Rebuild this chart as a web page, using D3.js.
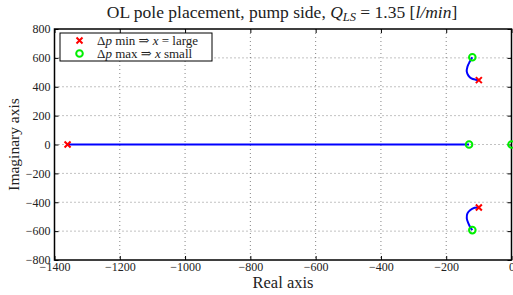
<!DOCTYPE html>
<html>
<head>
<meta charset="utf-8">
<script src="https://cdn.jsdelivr.net/npm/d3@7"></script>
<style>
body { margin: 0; background: #fff; }
text { font-family: "Liberation Serif", "DejaVu Serif", serif; fill: #222; }
</style>
</head>
<body>
<svg id="chart" width="513" height="295"></svg>
<script>
// values
var xTicks = [-1400, -1200, -1000, -800, -600, -400, -200, 0];
var yTicks = [-800, -600, -400, -200, 0, 200, 400, 600, 800];

var realLocus = [[-1360, 0], [-130, 0]];
var upperLocus = [[-120, 604], [-128, 573], [-135, 539], [-137, 504], [-132, 477], [-123, 458], [-110, 449], [-100, 446]];
var lowerLocus = [[-100, -436], [-113, -438], [-126, -454], [-135, -477], [-137, -511], [-132, -546], [-126, -574], [-120, -593]];

var polesMin = [[-1360, 0], [-100, 446], [-100, -436]];   // red x
var polesMax = [[-130, 0], [-120, 604], [-120, -593], [0, 0]]; // green o

var margin = {top: 29, right: 1.5, bottom: 35, left: 54.5};
var width = 513 - margin.left - margin.right;
var height = 295 - margin.top - margin.bottom;

var svg = d3.select("#chart");

var x = d3.scaleLinear().domain([-1400, 0]).range([0, width]);
var y = d3.scaleLinear().domain([-800, 800]).range([height, 0]);

var g = svg.append("g")
	.attr("transform", "translate(" + margin.left + "," + margin.top + ")");

// grid
g.selectAll(".vgrid")
	.data(xTicks.slice(1, -1))
	.enter().append("line")
	.attr("x1", function(d){ return x(d); })
	.attr("x2", function(d){ return x(d); })
	.attr("y1", 0).attr("y2", height)
	.attr("stroke", "#666").attr("stroke-width", 0.8)
	.attr("stroke-dasharray", "1,3");
g.selectAll(".hgrid")
	.data(yTicks.slice(1, -1))
	.enter().append("line")
	.attr("y1", function(d){ return y(d); })
	.attr("y2", function(d){ return y(d); })
	.attr("x1", 0).attr("x2", width)
	.attr("stroke", "#666").attr("stroke-width", 0.8)
	.attr("stroke-dasharray", "1,3");

// axes, ticks pointing in
var xBottom = d3.axisBottom(x).tickValues(xTicks).tickSize(-4).tickPadding(6).tickFormat(d3.format("d"));
var xTop = d3.axisTop(x).tickValues(xTicks).tickSize(-4).tickFormat("");
var yLeft = d3.axisLeft(y).tickValues(yTicks).tickSize(-4).tickPadding(4).tickFormat(d3.format("d"));
var yRight = d3.axisRight(y).tickValues(yTicks).tickSize(-4).tickFormat("");

function styleAxis(sel){
	sel.select(".domain").remove();
	sel.selectAll(".tick line").attr("stroke", "#000").attr("stroke-width", 1);
	sel.selectAll("text").style("font-size", "12px").attr("fill", "#222");
}
g.append("g").attr("transform", "translate(0," + height + ")").call(xBottom).call(styleAxis)
	.selectAll("text").attr("dy", "0.4em").text(function(d){ return d < 0 ? "\u2212" + (-d) : d; });
g.append("g").call(xTop).call(styleAxis);
g.append("g").call(yLeft).call(styleAxis)
	.selectAll("text").text(function(d){ return d < 0 ? "\u2212" + (-d) : d; });
g.append("g").attr("transform", "translate(" + width + ",0)").call(yRight).call(styleAxis);

g.append("rect")
	.attr("width", width).attr("height", height)
	.attr("fill", "none").attr("stroke", "#000").attr("stroke-width", 1.5);

// loci
var line = d3.line()
	.x(function(d){ return x(d[0]); })
	.y(function(d){ return y(d[1]); })
	.curve(d3.curveCatmullRom);

[realLocus, upperLocus, lowerLocus].forEach(function(pts){
	g.append("path")
		.attr("d", line(pts))
		.attr("fill", "none")
		.attr("stroke", "#0000ff")
		.attr("stroke-width", 2);
});

// markers
function cross(sel, cx, cy, s){
	sel.append("path")
		.attr("d", "M" + (cx - s) + "," + (cy - s) + "L" + (cx + s) + "," + (cy + s) +
			"M" + (cx - s) + "," + (cy + s) + "L" + (cx + s) + "," + (cy - s))
		.attr("stroke", "#ff0000").attr("stroke-width", 2).attr("fill", "none");
}
polesMin.forEach(function(p){ cross(g, x(p[0]), y(p[1]), 3); });
g.selectAll(".pmax")
	.data(polesMax)
	.enter().append("circle")
	.attr("cx", function(d){ return x(d[0]); })
	.attr("cy", function(d){ return y(d[1]); })
	.attr("r", 3.3)
	.attr("fill", "none").attr("stroke", "#00ee00").attr("stroke-width", 2);

// legend
var lg = svg.append("g").attr("transform", "translate(60,33)");
lg.append("rect").attr("width", 152).attr("height", 28)
	.attr("fill", "#fff").attr("stroke", "#000").attr("stroke-width", 1);
cross(lg, 19.5, 7.5, 3);
lg.append("circle").attr("cx", 19.5).attr("cy", 20.5).attr("r", 3.3)
	.attr("fill", "none").attr("stroke", "#00ee00").attr("stroke-width", 2);
var l1 = lg.append("text").attr("x", 37).attr("y", 11.5).style("font-size", "13px");
l1.append("tspan").text("\u0394");
l1.append("tspan").style("font-style", "italic").text("p");
l1.append("tspan").text(" min \u21D2 ");
l1.append("tspan").style("font-style", "italic").text("x");
l1.append("tspan").text(" = large");
var l2 = lg.append("text").attr("x", 37).attr("y", 24.5).style("font-size", "13px");
l2.append("tspan").text("\u0394");
l2.append("tspan").style("font-style", "italic").text("p");
l2.append("tspan").text(" max \u21D2 ");
l2.append("tspan").style("font-style", "italic").text("x");
l2.append("tspan").text(" small");

// title
var t = svg.append("text").attr("x", 282).attr("y", 17.5)
	.attr("text-anchor", "middle").style("font-size", "17.5px");
t.append("tspan").text("OL pole placement, pump side, ");
t.append("tspan").style("font-style", "italic").text("Q");
t.append("tspan").style("font-style", "italic").style("font-size", "12.5px").attr("dy", 3).text("LS");
t.append("tspan").attr("dy", -3).text(" = 1.35 [");
t.append("tspan").style("font-style", "italic").text("l/min");
t.append("tspan").text("]");

// axis labels
svg.append("text").attr("x", 283).attr("y", 288)
	.attr("text-anchor", "middle").style("font-size", "16.5px").text("Real axis");
svg.append("text")
	.attr("transform", "translate(19," + (margin.top + height / 2) + ") rotate(-90)")
	.attr("text-anchor", "middle").style("font-size", "15.5px").text("Imaginary axis");
</script>
</body>
</html>
